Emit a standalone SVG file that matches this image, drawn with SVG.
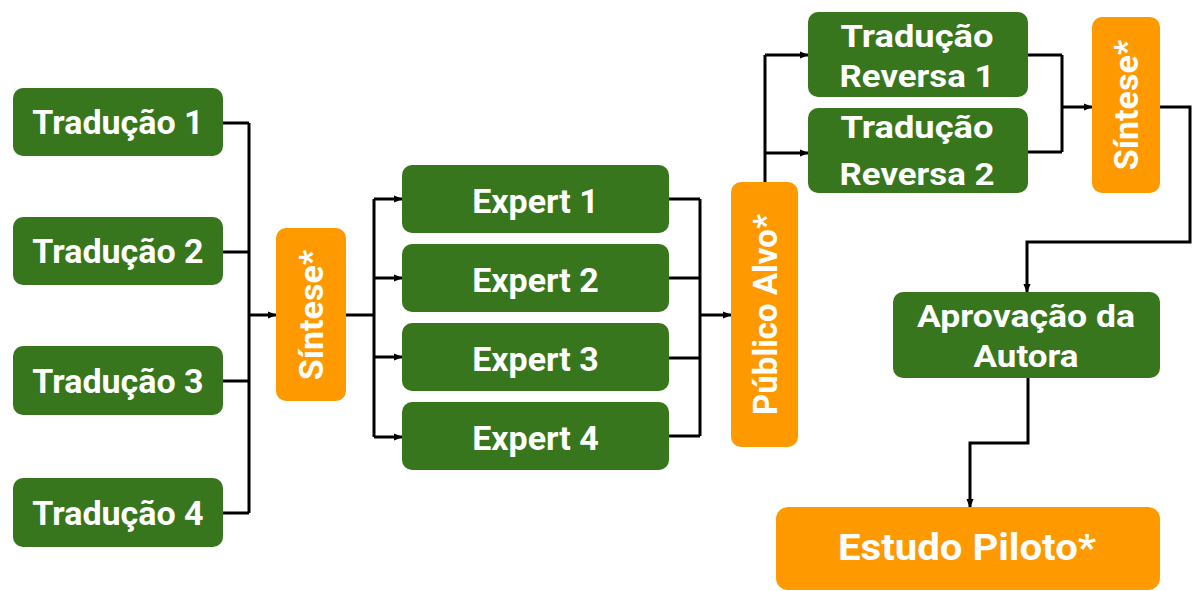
<svg xmlns="http://www.w3.org/2000/svg" width="1192" height="591" viewBox="0 0 1192 591">
<style>
.g{fill:#38761d}
.o{fill:#ff9900}
.t{fill:#ffffff;font-family:Roboto,"Liberation Sans",sans-serif;font-weight:700;text-anchor:middle}
.c{fill:none;stroke:#000;stroke-width:3;stroke-linejoin:miter}
.a{fill:none;stroke:#000;stroke-width:3}
</style>
<defs>
<marker id="ah" viewBox="0 0 10 10" refX="9" refY="5" markerWidth="3" markerHeight="3" orient="auto" markerUnits="strokeWidth">
<path d="M0,1 L10,5 L0,9 z" fill="#000"/>
</marker>
</defs>
<rect width="1192" height="591" fill="#fff"/>
<g id="connectors">
<path class="c" d="M223,123 H249 M223,252 H249 M223,381 H249 M223,513 H249 M249,123 V513"/>
<path class="a" d="M249,315 H276" marker-end="url(#ah)"/>
<path class="c" d="M346,315 H374 M374,199 V437"/>
<path class="a" d="M374,199 H402" marker-end="url(#ah)"/>
<path class="a" d="M374,278 H402" marker-end="url(#ah)"/>
<path class="a" d="M374,357 H402" marker-end="url(#ah)"/>
<path class="a" d="M374,437 H402" marker-end="url(#ah)"/>
<path class="c" d="M669,199 H700 M669,278 H700 M669,358 H700 M669,436 H700 M700,199 V436"/>
<path class="a" d="M700,315 H731" marker-end="url(#ah)"/>
<path class="c" d="M765,182 V55"/>
<path class="a" d="M765,55 H808" marker-end="url(#ah)"/>
<path class="a" d="M765,153 H808" marker-end="url(#ah)"/>
<path class="c" d="M1028,55 H1062 M1028,152 H1062 M1062,55 V152"/>
<path class="a" d="M1062,107 H1092" marker-end="url(#ah)"/>
<path class="a" d="M1160,107 H1190 V242 H1027 V292" marker-end="url(#ah)"/>
<path class="a" d="M1028,378 V443 H970 V507" marker-end="url(#ah)"/>
</g>
<g id="traducao1"><rect class="g" x="13" y="88" width="210" height="68" rx="10"/><text class="t" x="118" y="134" font-size="34">Tradução 1</text></g>
<g id="traducao2"><rect class="g" x="13" y="217" width="210" height="68" rx="10"/><text class="t" x="118" y="263" font-size="34">Tradução 2</text></g>
<g id="traducao3"><rect class="g" x="13" y="346" width="210" height="69" rx="10"/><text class="t" x="118" y="393" font-size="34">Tradução 3</text></g>
<g id="traducao4"><rect class="g" x="13" y="478" width="210" height="69" rx="10"/><text class="t" x="118" y="525" font-size="34">Tradução 4</text></g>
<g id="sintese1"><rect class="o" x="276" y="228" width="70" height="173" rx="10"/><text class="t" x="311" y="327" font-size="34" transform="rotate(-90 311 315)">Síntese*</text></g>
<g id="expert1"><rect class="g" x="402" y="165" width="267" height="68" rx="10"/><text class="t" x="535.5" y="213" font-size="34">Expert 1</text></g>
<g id="expert2"><rect class="g" x="402" y="244" width="267" height="68" rx="10"/><text class="t" x="535.5" y="292" font-size="34">Expert 2</text></g>
<g id="expert3"><rect class="g" x="402" y="323" width="267" height="68" rx="10"/><text class="t" x="535.5" y="371" font-size="34">Expert 3</text></g>
<g id="expert4"><rect class="g" x="402" y="402" width="267" height="68" rx="10"/><text class="t" x="535.5" y="450" font-size="34">Expert 4</text></g>
<g id="publico"><rect class="o" x="731" y="182" width="67" height="265" rx="10"/><text class="t" x="765" y="326" font-size="33" transform="rotate(-90 765 314.5)">Público Alvo*</text></g>
<g id="reversa1"><rect class="g" x="808" y="12" width="220" height="85" rx="10"/><text class="t" x="917" y="47" font-size="32" textLength="153" lengthAdjust="spacingAndGlyphs">Tradução</text><text class="t" x="917" y="87" font-size="32" textLength="155" lengthAdjust="spacingAndGlyphs">Reversa 1</text></g>
<g id="reversa2"><rect class="g" x="808" y="108" width="220" height="85" rx="10"/><text class="t" x="917" y="138" font-size="32" textLength="153" lengthAdjust="spacingAndGlyphs">Tradução</text><text class="t" x="917" y="185" font-size="32" textLength="155" lengthAdjust="spacingAndGlyphs">Reversa 2</text></g>
<g id="sintese2"><rect class="o" x="1092" y="17" width="68" height="176" rx="10"/><text class="t" x="1126" y="117" font-size="34" transform="rotate(-90 1126 105)">Síntese*</text></g>
<g id="aprovacao"><rect class="g" x="893" y="292" width="267" height="86" rx="10"/><text class="t" x="1026" y="327" font-size="32" textLength="218" lengthAdjust="spacingAndGlyphs">Aprovação da</text><text class="t" x="1026" y="367" font-size="32" textLength="105" lengthAdjust="spacingAndGlyphs">Autora</text></g>
<g id="estudo"><rect class="o" x="776" y="507" width="384" height="83" rx="12"/><text class="t" x="967" y="560" font-size="37" textLength="258" lengthAdjust="spacingAndGlyphs">Estudo Piloto*</text></g>
</svg>
